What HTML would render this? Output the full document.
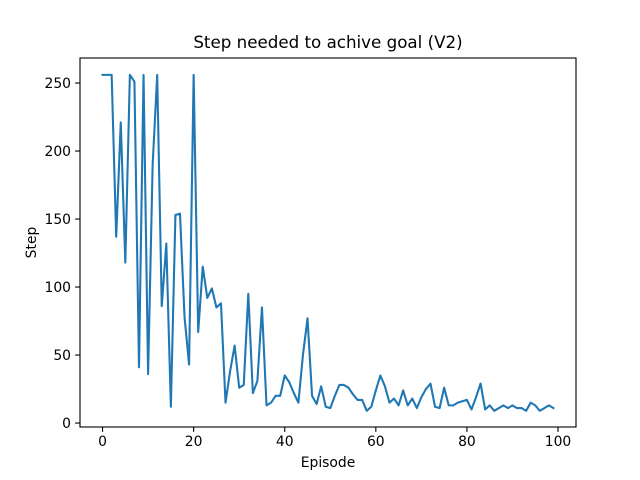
<!DOCTYPE html>
<html><head><meta charset="utf-8"><style>
body{margin:0;background:#fff}
svg{display:block;font-family:"DejaVu Sans","Liberation Sans",sans-serif}
</style></head><body>
<svg id="c" width="640" height="480">
<rect width="640" height="480" fill="#fff"/>
<text x="328" y="48" font-size="16.7" text-anchor="middle">Step needed to achive goal (V2)</text>
<text x="328" y="467" font-size="13.9" text-anchor="middle">Episode</text>
<text transform="translate(36,242.5) rotate(-90)" font-size="13.9" text-anchor="middle">Step</text>
<g id="ticks"></g>
<path id="line" fill="none" stroke="#1f77b4" stroke-width="2.08" stroke-linejoin="round" stroke-linecap="square"/>
<rect x="80" y="58" width="496" height="369" fill="none" stroke="#000" stroke-width="1.1"/>
</svg>
<script>
const steps=[256,256,256,137,221,118,256,251,41,256,36,190,256,86,132,12,153,154,78,43,256,67,115,92,99,85,88,15,38,57,26,28,95,22,31,85,13,15,20,20,35,30,22,15,50,77,20,14,27,12,11,20,28,28,26,21,17,17,9,12,24,35,27,15,18,13,24,13,18,11,19,25,29,12,11,26,13,13,15,16,17,10,19,29,10,13,9,11,13,11,13,11,11,9,15,13,9,11,13,11];
const xTicks=[0,20,40,60,80,100];
const yTicks=[0,50,100,150,200,250];
const L=80,R=576,T=58,B=427;
const xmin=-4.95,xmax=103.95,ymin=-2.9,ymax=268.4;
const sx=v=>L+(v-xmin)/(xmax-xmin)*(R-L);
const sy=v=>B-(v-ymin)/(ymax-ymin)*(B-T);
const NS="http://www.w3.org/2000/svg";
document.getElementById('line').setAttribute('d',steps.map((v,i)=>(i?'L':'M')+sx(i).toFixed(2)+' '+sy(v).toFixed(2)).join(''));
const g=document.getElementById('ticks');
xTicks.forEach(t=>{
 const l=document.createElementNS(NS,'line');
 
 
 l.setAttribute('x1',sx(t));l.setAttribute('x2',sx(t));l.setAttribute('y1',B);l.setAttribute('y2',B+4.9);l.setAttribute('stroke','#000');l.setAttribute('stroke-width','1.1');g.appendChild(l);
 const tx=document.createElementNS(NS,'text');
 
 
 tx.setAttribute('x',sx(t));tx.setAttribute('y',B+19);tx.setAttribute('font-size','13.9');tx.setAttribute('text-anchor','middle');tx.textContent=t;g.appendChild(tx);
});
yTicks.forEach(t=>{
 const l=document.createElementNS(NS,'line');
 
 
 l.setAttribute('x1',L-4.9);l.setAttribute('x2',L);l.setAttribute('y1',sy(t));l.setAttribute('y2',sy(t));l.setAttribute('stroke','#000');l.setAttribute('stroke-width','1.1');g.appendChild(l);
 const tx=document.createElementNS(NS,'text');
 
 
 tx.setAttribute('x',L-9);tx.setAttribute('y',sy(t)+5);tx.setAttribute('font-size','13.9');tx.setAttribute('text-anchor','end');tx.textContent=t;g.appendChild(tx);
});
</script>
</body></html>
